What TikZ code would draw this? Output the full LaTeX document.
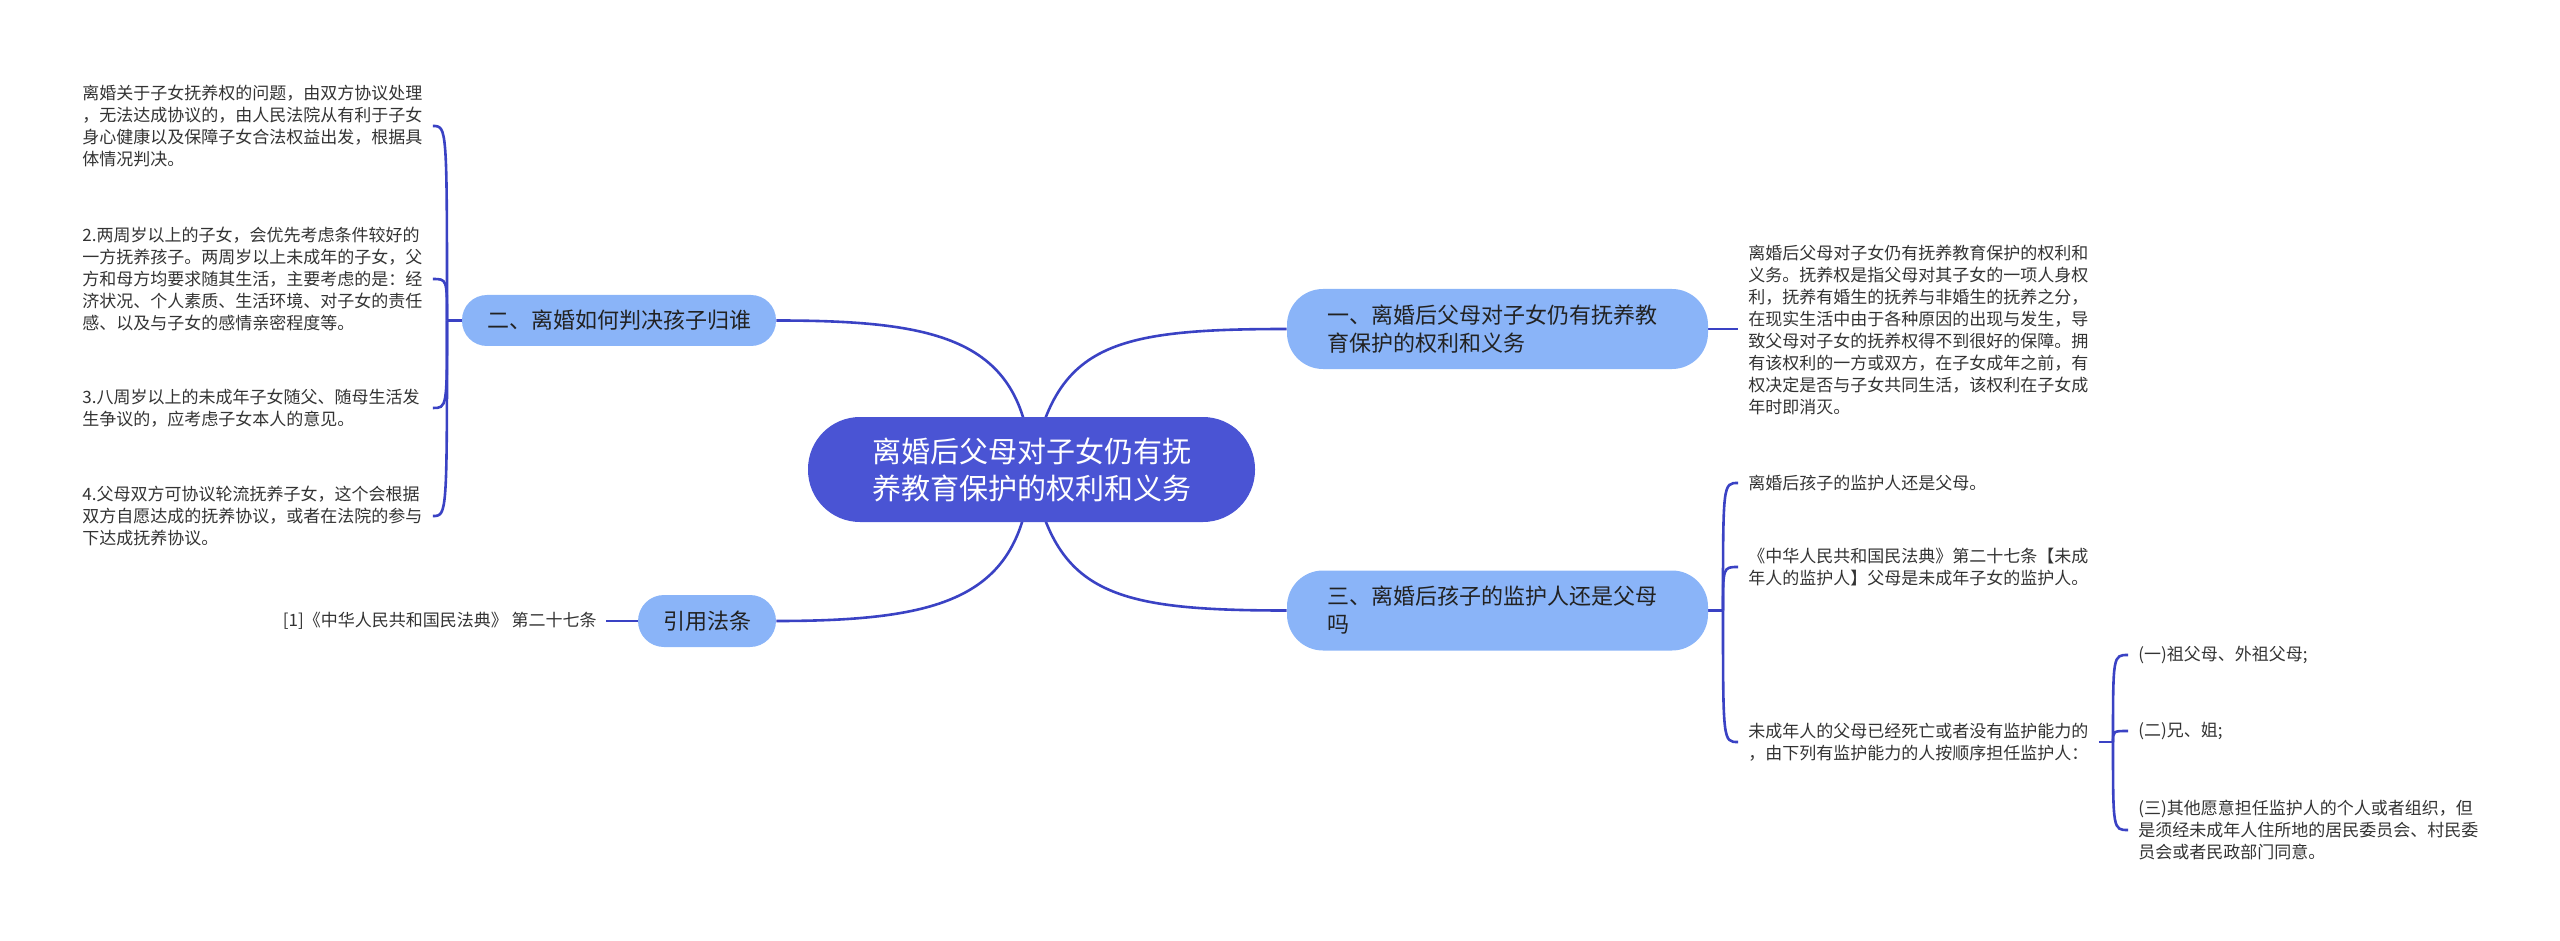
\documentclass[tikz,border=0pt]{standalone}
\usepackage{fontspec}
\setmainfont{Noto Sans CJK SC}
\usetikzlibrary{backgrounds}
\definecolor{linec}{RGB}{58,66,196}
\definecolor{rootc}{RGB}{74,84,212}
\definecolor{boxc}{RGB}{138,180,248}
\definecolor{boxtxt}{RGB}{34,34,34}
\definecolor{leaftxt}{RGB}{51,51,51}
\begin{document}
\begin{tikzpicture}[x=0.5pt,y=-0.5pt,
  conn/.style={draw=linec,line width=1.3pt},
  rootbox/.style={fill=rootc,text=white,rounded corners=26pt,minimum width=223.5pt,minimum height=52.5pt,align=center,font=\fontsize{14.5pt}{18.5pt}\selectfont,inner sep=0pt},
  topicbox/.style={fill=boxc,text=boxtxt,align=left,font=\fontsize{11pt}{14pt}\selectfont,inner sep=0pt},
  leaf/.style={text=leaftxt,align=left,font=\fontsize{8.5pt}{11pt}\selectfont,inner xsep=5pt,inner ysep=0pt,text width=170pt,anchor=west},
]
\useasboundingbox (0,0) rectangle (2560,941);

% root
\node[rootbox] (root) at (1031.5,469.5) {离婚后父母对子女仍有抚\\养教育保护的权利和义务};

% main topics
\node[topicbox,rounded corners=18pt,minimum width=210.5pt,minimum height=40pt,text width=170pt] (b1) at (1497.5,329) {一、离婚后父母对子女仍有抚养教\\育保护的权利和义务};
\node[topicbox,rounded corners=18pt,minimum width=210.5pt,minimum height=40pt,text width=170pt] (b3) at (1497.5,610.5) {三、离婚后孩子的监护人还是父母\\吗};
\node[topicbox,rounded corners=12.5pt,minimum width=157pt,minimum height=25.5pt] (b2) at (619,320.5) {二、离婚如何判决孩子归谁};
\node[topicbox,rounded corners=13pt,minimum width=69pt,minimum height=26pt] (b4) at (707,621) {引用法条};

% left leaves
\node[leaf] (t1) at (72,126) {离婚关于子女抚养权的问题，由双方协议处理\\，无法达成协议的，由人民法院从有利于子女\\身心健康以及保障子女合法权益出发，根据具\\体情况判决。};
\node[leaf] (t2) at (72,279) {2.两周岁以上的子女，会优先考虑条件较好的\\一方抚养孩子。两周岁以上未成年的子女，父\\方和母方均要求随其生活，主要考虑的是：经\\济状况、个人素质、生活环境、对子女的责任\\感、以及与子女的感情亲密程度等。};
\node[leaf] (t3) at (72,408) {3.八周岁以上的未成年子女随父、随母生活发\\生争议的，应考虑子女本人的意见。};
\node[leaf] (t4) at (72,516) {4.父母双方可协议轮流抚养子女，这个会根据\\双方自愿达成的抚养协议，或者在法院的参与\\下达成抚养协议。};

% citation
\node[text=leaftxt,font=\fontsize{8.5pt}{11pt}\selectfont,inner xsep=4.5pt,inner ysep=0pt,anchor=east] (cite) at (606,621) {[1]《中华人民共和国民法典》 第二十七条};

% right leaves
\node[leaf] (c1) at (1738,330) {离婚后父母对子女仍有抚养教育保护的权利和\\义务。抚养权是指父母对其子女的一项人身权\\利，抚养有婚生的抚养与非婚生的抚养之分，\\在现实生活中由于各种原因的出现与发生，导\\致父母对子女的抚养权得不到很好的保障。拥\\有该权利的一方或双方，在子女成年之前，有\\权决定是否与子女共同生活，该权利在子女成\\年时即消灭。};
\node[leaf] (ga) at (1738,483) {离婚后孩子的监护人还是父母。};
\node[leaf] (gb) at (1738,567) {《中华人民共和国民法典》第二十七条【未成\\年人的监护人】父母是未成年子女的监护人。};
\node[leaf] (gc) at (1738,742) {未成年人的父母已经死亡或者没有监护能力的\\，由下列有监护能力的人按顺序担任监护人：};
\node[leaf] (d1) at (2128,655) {(一)祖父母、外祖父母;};
\node[leaf] (d2) at (2128,731) {(二)兄、姐;};
\node[leaf] (d3) at (2128,830) {(三)其他愿意担任监护人的个人或者组织，但\\是须经未成年人住所地的居民委员会、村民委\\员会或者民政部门同意。};

\coordinate (j2) at (447,320.5);
\coordinate (j3) at (1723,610.5);
\coordinate (jc) at (2113,742);

\begin{pgfonlayer}{background}
% root connectors
\draw[conn] (root.center) .. controls (1055,345) and (1110,329) .. (b1.west);
\draw[conn] (root.center) .. controls (1055,593) and (1110,610.5) .. (b3.west);
\draw[conn] (root.center) .. controls (1025,340) and (942,320.5) .. (b2.east);
\draw[conn] (root.center) .. controls (1022,595) and (950,621) .. (b4.east);
% citation
\draw[conn] (cite.east) -- (b4.west);
% left bracket
\draw[conn] (b2.west) -- (j2);
\draw[conn] (j2) .. controls (447,126) and (447,126) .. (t1.east);
\draw[conn] (j2) .. controls (447,279) and (447,279) .. (t2.east);
\draw[conn] (j2) .. controls (447,408) and (447,408) .. (t3.east);
\draw[conn] (j2) .. controls (447,516) and (447,516) .. (t4.east);
% one child
\draw[conn] (b1.east) -- (b1.east -| c1.west);
% three bracket
\draw[conn] (b3.east) -- (j3);
\draw[conn] (j3) .. controls (1723,483) and (1723,483) .. (ga.west);
\draw[conn] (j3) .. controls (1723,567) and (1723,567) .. (gb.west);
\draw[conn] (j3) .. controls (1723,742) and (1723,742) .. (gc.west);
% sub bracket
\draw[conn] (gc.east) -- (jc);
\draw[conn] (jc) .. controls (2113,655) and (2113,655) .. (d1.west);
\draw[conn] (jc) .. controls (2113,731) and (2113,731) .. (d2.west);
\draw[conn] (jc) .. controls (2113,830) and (2113,830) .. (d3.west);
\end{pgfonlayer}
\end{tikzpicture}
\end{document}
